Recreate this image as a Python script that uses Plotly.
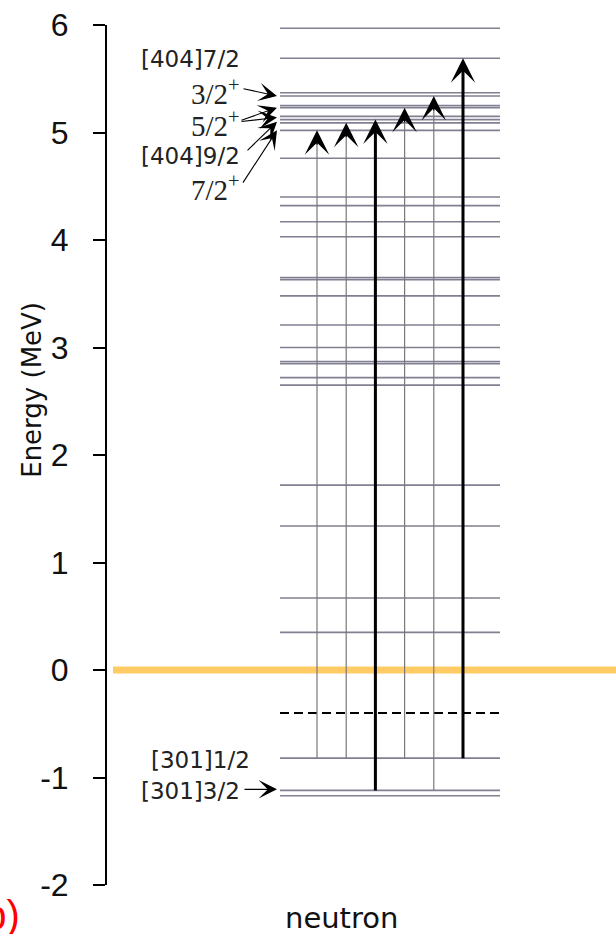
import plotly.graph_objects as go

# ---------------- data ----------------
level_energies = [5.97, 5.69, 5.37, 5.34, 5.25, 5.23, 5.15, 5.12, 5.09, 5.02, 4.76,
                  4.40, 4.32, 4.17, 4.03, 3.65, 3.63, 3.48, 3.21, 3.00, 2.87, 2.85,
                  2.72, 2.65, 1.72, 1.34, 0.67, 0.35, -0.82, -1.12, -1.17]
zero_line_energy = 0.0
dashed_energy = -0.40

arrow_from = [-0.82, -0.82, -1.12, -0.82, -1.12, -0.82]
arrow_to = [5.02, 5.09, 5.12, 5.23, 5.34, 5.69]
arrow_thick = [False, False, True, False, False, True]

label_texts = ["[404]7/2", "3/2<sup>+</sup>", "5/2<sup>+</sup>", "[404]9/2", "7/2<sup>+</sup>",
               "[301]1/2", "[301]3/2"]
label_energies = [5.68, 5.38, 5.08, 4.78, 4.48, -0.84, -1.13]
label_serif = [False, True, True, False, True, False, False]

pointer_from = [5.41, 5.11, 5.10, 4.82, 4.52, -1.11]
pointer_to = [5.34, 5.23, 5.14, 5.10, 5.02, -1.11]

y_ticks = [-2, -1, 0, 1, 2, 3, 4, 5, 6]
y_title = "Energy (MeV)"
x_label = "neutron"

# ---------------- layout constants (pixel-like x units) ----------------
X0, X1 = 107, 616
LEV_X0, LEV_X1 = 280, 500
ARROW_X0, ARROW_DX = 317, 29.2
ZERO_X0 = 113

fig = go.Figure()

# level lines
lx, ly = [], []
for e in level_energies:
    lx += [LEV_X0, LEV_X1, None]
    ly += [e, e, None]
fig.add_trace(go.Scatter(x=lx, y=ly, mode="lines",
                         line=dict(color="rgb(128,128,146)", width=1.6),
                         hoverinfo="skip", showlegend=False))

# zero line
fig.add_trace(go.Scatter(x=[ZERO_X0, X1], y=[zero_line_energy] * 2, mode="lines",
                         line=dict(color="rgb(255,203,100)", width=7),
                         hoverinfo="skip", showlegend=False))

# dashed line
fig.add_trace(go.Scatter(x=[LEV_X0, LEV_X1], y=[dashed_energy] * 2, mode="lines",
                         line=dict(color="black", width=2.2, dash="9px,5px"),
                         hoverinfo="skip", showlegend=False))

annotations = []
# vertical transition arrows
for i, (e0, e1, thick) in enumerate(zip(arrow_from, arrow_to, arrow_thick)):
    x = ARROW_X0 + i * ARROW_DX
    fig.add_trace(go.Scatter(x=[x, x], y=[e0, e1 - 0.08], mode="lines",
                             line=dict(color="black" if thick else "rgb(120,120,120)",
                                       width=3 if thick else 1.2),
                             hoverinfo="skip", showlegend=False))
    annotations.append(dict(x=x, y=e1, xref="x", yref="y", text="", showarrow=True,
                            ax=0, ay=16, arrowhead=3, arrowsize=3.4, arrowwidth=1.2,
                            arrowcolor="black", standoff=0))

# labels
for t, e, serif in zip(label_texts, label_energies, label_serif):
    right = 252 if t == "[301]1/2" else 242
    annotations.append(dict(x=right, y=e, xref="x", yref="y", text=t, showarrow=False,
                            xanchor="right", yanchor="middle",
                            font=dict(family="Liberation Serif" if serif else "DejaVu Sans",
                                      size=29 if serif else 23, color="#222")))

# pointer arrows
tails_x = [242, 240, 240, 246, 242, 243]
for tx, e0, e1 in zip(tails_x, pointer_from, pointer_to):
    annotations.append(dict(x=277, y=e1, xref="x", yref="y", ax=tx, ay=e0,
                            axref="x", ayref="y", text="", showarrow=True,
                            arrowhead=3, arrowsize=2.8, arrowwidth=1.1,
                            arrowcolor="black", standoff=0))

# axis title, x label, panel tag (paper coordinates)
annotations.append(dict(x=-0.149, y=0.576, xref="paper", yref="paper", text=y_title,
                        textangle=-90, showarrow=False, xanchor="center", yanchor="middle",
                        font=dict(family="DejaVu Sans", size=26, color="#111")))
annotations.append(dict(x=0.46, y=-0.038, xref="paper", yref="paper", text=x_label,
                        showarrow=False, xanchor="center", yanchor="middle",
                        font=dict(family="DejaVu Sans", size=29, color="#111")))
annotations.append(dict(x=-0.167, y=-0.035, xref="paper", yref="paper", text="(b)",
                        showarrow=False, xanchor="right", yanchor="middle",
                        font=dict(family="Liberation Sans", size=40, color="red")))

fig.update_layout(
    width=616, height=934,
    margin=dict(l=107, r=0, t=25, b=49),
    paper_bgcolor="white", plot_bgcolor="white",
    annotations=annotations,
    xaxis=dict(range=[X0, X1], visible=False, showgrid=False, zeroline=False),
    yaxis=dict(range=[-2, 6], tickvals=y_ticks, ticktext=[str(v) for v in y_ticks],
               showline=True, linecolor="black", linewidth=2,
               ticks="outside", ticklen=12, tickwidth=2, tickcolor="black",
               ticklabelstandoff=18,
               tickfont=dict(family="Liberation Sans", size=32, color="#111"),
               showgrid=False, zeroline=False),
)

fig.write_html("out.html")
